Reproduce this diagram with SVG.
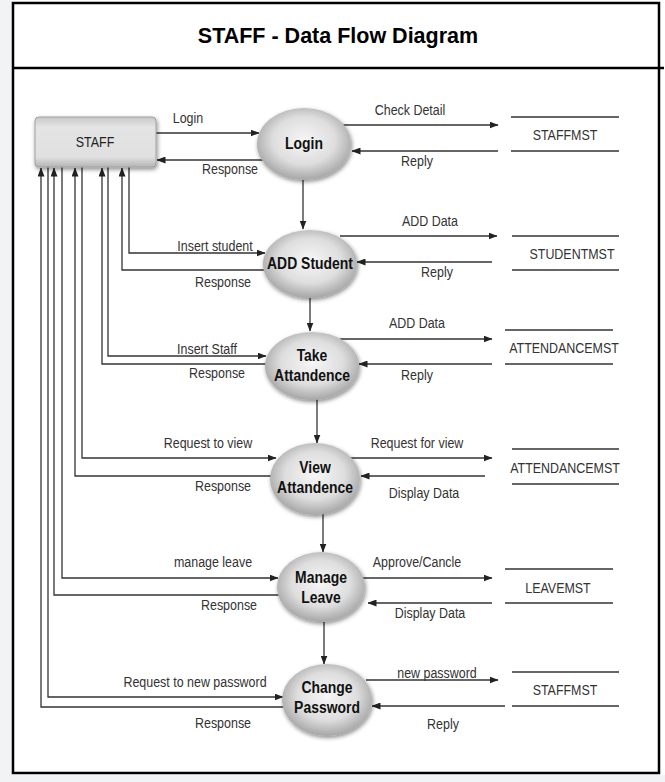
<svg xmlns="http://www.w3.org/2000/svg" width="665" height="782" viewBox="0 0 665 782">
<style>
.lbl{font-family:"Liberation Sans",Arial,sans-serif;font-size:15.2px;fill:#333;text-anchor:middle}
.ptx{font-family:"Liberation Sans",Arial,sans-serif;font-size:17px;font-weight:bold;fill:#111;text-anchor:middle}
.ttl{font-family:"Liberation Sans",Arial,sans-serif;font-size:21.5px;font-weight:bold;fill:#000;text-anchor:middle}
.arr{fill:none;stroke:#333;stroke-width:1.3;marker-end:url(#ah)}
.st{stroke:#333;stroke-width:1.5}
.proc{fill:url(#pg);filter:url(#sh)}
</style>
<defs>
<marker id="ah" markerWidth="9" markerHeight="7" refX="8.5" refY="3.5" orient="auto" markerUnits="userSpaceOnUse">
<path d="M0,0 L9,3.5 L0,7 z" fill="#222"/>
</marker>
<radialGradient id="pg" cx="50%" cy="45%" r="55%">
<stop offset="0" stop-color="#f6f6f6"/>
<stop offset="0.6" stop-color="#dedede"/>
<stop offset="1" stop-color="#a6a6a6"/>
</radialGradient>
<linearGradient id="bg" x1="0" y1="0" x2="0" y2="1">
<stop offset="0" stop-color="#c8c8c8"/>
<stop offset="0.2" stop-color="#e4e4e4"/>
<stop offset="0.8" stop-color="#e0e0e0"/>
<stop offset="1" stop-color="#b4b4b4"/>
</linearGradient>
<filter id="sh" x="-20%" y="-20%" width="140%" height="150%">
<feDropShadow dx="1" dy="2" stdDeviation="2" flood-color="#000" flood-opacity="0.45"/>
</filter>
</defs>
<rect x="0" y="0" width="665" height="782" fill="#fff"/>
<rect x="0" y="0" width="12" height="782" fill="#f2f3f5"/>
<rect x="0" y="775" width="665" height="7" fill="#f2f3f5"/>
<rect x="13" y="3" width="646" height="770" fill="#fff" stroke="#000" stroke-width="2.5"/>
<line x1="13" y1="68" x2="664" y2="68" stroke="#000" stroke-width="2.5"/>
<text class="ttl" x="338" y="43">STAFF - Data Flow Diagram</text>

<g id="connectors">
<line class="arr" x1="156" y1="133" x2="259" y2="133"/>
<line class="arr" x1="264" y1="160" x2="157" y2="160"/>
<line class="arr" x1="340" y1="125" x2="498" y2="125"/>
<line class="arr" x1="498" y1="151" x2="352" y2="151"/>
<line class="arr" x1="303" y1="180" x2="303" y2="229"/>
<path class="arr" d="M129,167 V253 H265"/>
<path class="arr" d="M266,270 H122 V168"/>
<line class="arr" x1="340" y1="236" x2="497" y2="236"/>
<line class="arr" x1="492" y1="262" x2="357" y2="262"/>
<line class="arr" x1="310" y1="298" x2="310" y2="331"/>
<path class="arr" d="M108,167 V356 H266"/>
<path class="arr" d="M268,364 H102 V168"/>
<line class="arr" x1="340" y1="339" x2="492" y2="339"/>
<line class="arr" x1="492" y1="364" x2="359" y2="364"/>
<line class="arr" x1="317" y1="399" x2="317" y2="443"/>
<path class="arr" d="M82,167 V458 H276"/>
<path class="arr" d="M275,476 H75 V168"/>
<line class="arr" x1="350" y1="458" x2="492" y2="458"/>
<line class="arr" x1="485" y1="476" x2="361" y2="476"/>
<line class="arr" x1="323" y1="514" x2="323" y2="552"/>
<path class="arr" d="M62,167 V578 H278"/>
<path class="arr" d="M280,595 H54 V168"/>
<line class="arr" x1="360" y1="578" x2="492" y2="578"/>
<line class="arr" x1="492" y1="603" x2="368" y2="603"/>
<line class="arr" x1="324" y1="622" x2="324" y2="664"/>
<path class="arr" d="M48,167 V697 H283"/>
<path class="arr" d="M285,707 H41 V168"/>
<line class="arr" x1="366" y1="680" x2="498" y2="680"/>
<line class="arr" x1="505" y1="706" x2="372" y2="706"/>
</g>

<g id="staff">
<rect x="35" y="117" width="121" height="50" rx="4" fill="url(#bg)" stroke="#a0a0a0" stroke-width="1" filter="url(#sh)"/>
<text class="lbl" transform="translate(95,147) scale(0.82,1)" style="fill:#222">STAFF</text>
</g>

<g id="p-login">
<ellipse class="proc" cx="304" cy="144" rx="47" ry="36"/>
<text class="ptx" transform="translate(304,149) scale(0.82,1)">Login</text>
</g>
<g id="p-addstudent">
<ellipse class="proc" cx="310" cy="264" rx="47" ry="34"/>
<text class="ptx" transform="translate(310,269) scale(0.82,1)">ADD Student</text>
</g>
<g id="p-take">
<ellipse class="proc" cx="312" cy="366" rx="47" ry="34"/>
<text class="ptx" transform="translate(312,361) scale(0.82,1)">Take</text>
<text class="ptx" transform="translate(312,381) scale(0.82,1)">Attandence</text>
</g>
<g id="p-view">
<ellipse class="proc" cx="315" cy="479" rx="45" ry="36"/>
<text class="ptx" transform="translate(315,473) scale(0.82,1)">View</text>
<text class="ptx" transform="translate(315,493) scale(0.82,1)">Attandence</text>
</g>
<g id="p-manage">
<ellipse class="proc" cx="321" cy="587" rx="44" ry="35"/>
<text class="ptx" transform="translate(321,583) scale(0.82,1)">Manage</text>
<text class="ptx" transform="translate(321,603) scale(0.82,1)">Leave</text>
</g>
<g id="p-change">
<ellipse class="proc" cx="327" cy="700" rx="45" ry="36"/>
<text class="ptx" transform="translate(327,693) scale(0.82,1)">Change</text>
<text class="ptx" transform="translate(327,713) scale(0.82,1)">Password</text>
</g>

<g id="ds-staffmst1">
<line class="st" x1="511" y1="117" x2="619" y2="117"/>
<line class="st" x1="511" y1="151" x2="619" y2="151"/>
<text class="lbl" transform="translate(565,140) scale(0.82,1)">STAFFMST</text>
</g>
<g id="ds-studentmst">
<line class="st" x1="512" y1="236" x2="619" y2="236"/>
<line class="st" x1="512" y1="270" x2="619" y2="270"/>
<text class="lbl" transform="translate(572,259) scale(0.82,1)">STUDENTMST</text>
</g>
<g id="ds-attendancemst1">
<line class="st" x1="505" y1="330" x2="613" y2="330"/>
<line class="st" x1="505" y1="364" x2="613" y2="364"/>
<text class="lbl" transform="translate(564,353) scale(0.82,1)">ATTENDANCEMST</text>
</g>
<g id="ds-attendancemst2">
<line class="st" x1="512" y1="449" x2="619" y2="449"/>
<line class="st" x1="512" y1="484" x2="619" y2="484"/>
<text class="lbl" transform="translate(565,473) scale(0.82,1)">ATTENDANCEMST</text>
</g>
<g id="ds-leavemst">
<line class="st" x1="505" y1="569" x2="613" y2="569"/>
<line class="st" x1="505" y1="603" x2="613" y2="603"/>
<text class="lbl" transform="translate(558,593) scale(0.82,1)">LEAVEMST</text>
</g>
<g id="ds-staffmst2">
<line class="st" x1="512" y1="672" x2="619" y2="672"/>
<line class="st" x1="512" y1="706" x2="619" y2="706"/>
<text class="lbl" transform="translate(565,695) scale(0.82,1)">STAFFMST</text>
</g>

<g id="labels">
<text class="lbl" transform="translate(188,123) scale(0.82,1)">Login</text>
<text class="lbl" transform="translate(230,174) scale(0.82,1)">Response</text>
<text class="lbl" transform="translate(410,115) scale(0.82,1)">Check Detail</text>
<text class="lbl" transform="translate(417,166) scale(0.82,1)">Reply</text>
<text class="lbl" transform="translate(215,251) scale(0.82,1)">Insert student</text>
<text class="lbl" transform="translate(223,287) scale(0.82,1)">Response</text>
<text class="lbl" transform="translate(430,226) scale(0.82,1)">ADD Data</text>
<text class="lbl" transform="translate(437,277) scale(0.82,1)">Reply</text>
<text class="lbl" transform="translate(207,354) scale(0.82,1)">Insert Staff</text>
<text class="lbl" transform="translate(217,378) scale(0.82,1)">Response</text>
<text class="lbl" transform="translate(417,328) scale(0.82,1)">ADD Data</text>
<text class="lbl" transform="translate(417,380) scale(0.82,1)">Reply</text>
<text class="lbl" transform="translate(208,448) scale(0.82,1)">Request to view</text>
<text class="lbl" transform="translate(223,491) scale(0.82,1)">Response</text>
<text class="lbl" transform="translate(417,448) scale(0.82,1)">Request for view</text>
<text class="lbl" transform="translate(424,498) scale(0.82,1)">Display Data</text>
<text class="lbl" transform="translate(213,567) scale(0.82,1)">manage leave</text>
<text class="lbl" transform="translate(229,610) scale(0.82,1)">Response</text>
<text class="lbl" transform="translate(417,567) scale(0.82,1)">Approve/Cancle</text>
<text class="lbl" transform="translate(430,618) scale(0.82,1)">Display Data</text>
<text class="lbl" transform="translate(195,687) scale(0.82,1)">Request to new password</text>
<text class="lbl" transform="translate(223,728) scale(0.82,1)">Response</text>
<text class="lbl" transform="translate(437,678) scale(0.82,1)">new password</text>
<text class="lbl" transform="translate(443,729) scale(0.82,1)">Reply</text>
</g>
</svg>
